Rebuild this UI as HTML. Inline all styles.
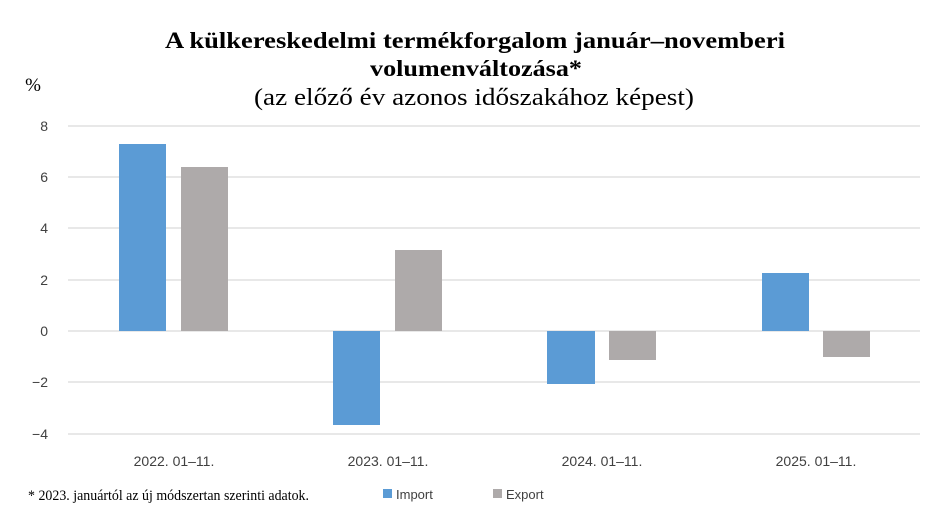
<!DOCTYPE html>
<html><head><meta charset="utf-8"><style>body{margin:0;background:#fff}svg{display:block}</style></head><body>
<svg width="946" height="521" xmlns="http://www.w3.org/2000/svg">
<rect width="946" height="521" fill="#fff"/>
<g font-family="Liberation Serif, serif" fill="#000" text-anchor="middle">
<text x="475" y="48" font-size="23" font-weight="bold" textLength="620" lengthAdjust="spacingAndGlyphs">A külkereskedelmi termékforgalom január–novemberi</text>
<text x="476" y="76" font-size="23" font-weight="bold" textLength="212" lengthAdjust="spacingAndGlyphs">volumenváltozása*</text>
<text x="474" y="105" font-size="24" textLength="440" lengthAdjust="spacingAndGlyphs">(az előző év azonos időszakához képest)</text>
<text x="33" y="91" font-size="19">%</text>
</g>
<g stroke="#d9d9d9" stroke-width="1.3">
<line x1="68" x2="920" y1="126" y2="126"/><line x1="68" x2="920" y1="177" y2="177"/>
<line x1="68" x2="920" y1="228" y2="228"/><line x1="68" x2="920" y1="280" y2="280"/>
<line x1="68" x2="920" y1="331" y2="331"/><line x1="68" x2="920" y1="382" y2="382"/>
<line x1="68" x2="920" y1="434" y2="434"/>
</g>
<g font-family="Liberation Sans, sans-serif" font-size="14" fill="#404040" text-anchor="end">
<text x="48" y="131">8</text><text x="48" y="182">6</text><text x="48" y="233">4</text>
<text x="48" y="285">2</text><text x="48" y="336">0</text><text x="48" y="387">−2</text><text x="48" y="439">−4</text>
</g>
<g fill="#5b9bd5">
<rect x="119" y="144" width="47" height="187"/>
<rect x="333" y="331" width="47" height="94"/>
<rect x="547" y="331" width="48" height="53"/>
<rect x="762" y="273" width="47" height="58"/>
</g>
<g fill="#aeaaaa">
<rect x="181" y="167" width="47" height="164"/>
<rect x="395" y="250" width="47" height="81"/>
<rect x="609" y="331" width="47" height="29"/>
<rect x="823" y="331" width="47" height="26"/>
</g>
<g font-family="Liberation Sans, sans-serif" font-size="14" fill="#404040" text-anchor="middle">
<text x="174" y="466">2022. 01–11.</text><text x="388" y="466">2023. 01–11.</text>
<text x="602" y="466">2024. 01–11.</text><text x="816" y="466">2025. 01–11.</text>
</g>
<text x="28" y="500" font-family="Liberation Serif, serif" font-size="15" textLength="281" lengthAdjust="spacingAndGlyphs">* 2023. januártól az új módszertan szerinti adatok.</text>
<rect x="383" y="489" width="9" height="9" fill="#5b9bd5"/>
<text x="396" y="499" font-family="Liberation Sans, sans-serif" font-size="13" fill="#404040">Import</text>
<rect x="493" y="489" width="9" height="9" fill="#aeaaaa"/>
<text x="506" y="499" font-family="Liberation Sans, sans-serif" font-size="13" fill="#404040">Export</text>
</svg>
</body></html>
